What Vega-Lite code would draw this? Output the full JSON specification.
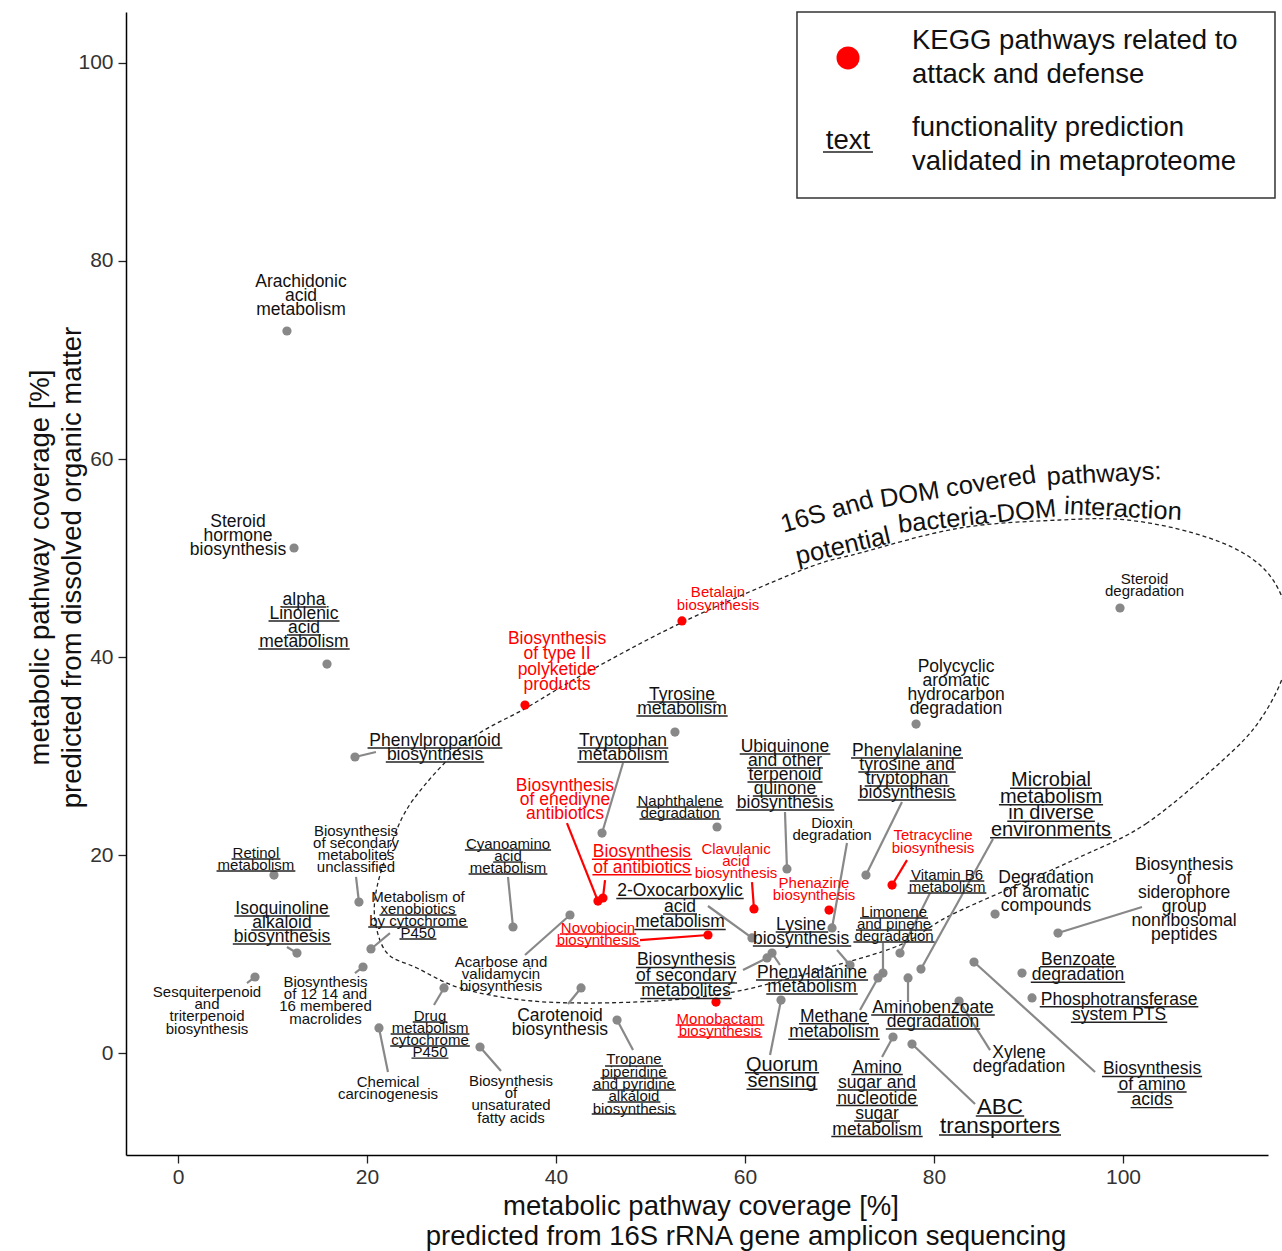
{
  "$schema": "https://vega.github.io/schema/vega-lite/v6.json",
  "width": 1142,
  "height": 1143,
  "autosize": {"type": "none"},
  "padding": {"left": 126, "top": 12, "right": 14, "bottom": 96},
  "background": "white",
  "config": {
    "view": {"stroke": null},
    "font": "Liberation Sans",
    "axis": {
      "grid": false,
      "domainColor": "#000000",
      "domainWidth": 1.5,
      "tickColor": "#222222",
      "tickWidth": 1.3,
      "tickSize": 8,
      "labelFont": "Liberation Sans",
      "labelFontSize": 21,
      "labelColor": "#333333",
      "titleFont": "Liberation Sans",
      "titleFontSize": 27.5,
      "titleFontWeight": "normal",
      "titleColor": "#111111"
    }
  },
  "datasets": {
    "pts": [
      {"name": "Arachidonic\nacid\nmetabolism", "x": 11.53, "y": 72.93, "grp": "other", "lx": 13.02, "ly": 77.87, "tier": 2},
      {"name": "Steroid\nhormone\nbiosynthesis", "x": 12.28, "y": 51.01, "grp": "other", "lx": 6.35, "ly": 53.63, "tier": 2},
      {"name": "alpha\nLinolenic\nacid\nmetabolism", "x": 15.77, "y": 39.29, "grp": "other", "lx": 13.33, "ly": 45.76, "tier": 2},
      {"name": "Phenylpropanoid\nbiosynthesis", "x": 18.73, "y": 29.90, "grp": "other", "lx": 27.20, "ly": 31.52, "tier": 2, "sx": 20.95, "sy": 30.40},
      {"name": "Retinol\nmetabolism", "x": 10.16, "y": 17.98, "grp": "other", "lx": 8.25, "ly": 20.22, "tier": 1},
      {"name": "Biosynthesis\nof secondary\nmetabolites\nunclassified", "x": 19.15, "y": 15.25, "grp": "other", "lx": 18.84, "ly": 22.47, "tier": 1, "sx": 18.84, "sy": 17.78},
      {"name": "Isoquinoline\nalkaloid\nbiosynthesis", "x": 12.59, "y": 10.10, "grp": "other", "lx": 11.01, "ly": 14.54, "tier": 2, "sx": 11.53, "sy": 10.71},
      {"name": "Metabolism of\nxenobiotics\nby cytochrome\nP450", "x": 20.42, "y": 10.51, "grp": "other", "lx": 25.40, "ly": 15.80, "tier": 1, "sx": 22.43, "sy": 12.12},
      {"name": "Cyanoamino\nacid\nmetabolism", "x": 35.45, "y": 12.73, "grp": "other", "lx": 34.92, "ly": 21.14, "tier": 1, "sx": 34.92, "sy": 17.78},
      {"name": "Biosynthesis\nof 12 14 and\n16 membered\nmacrolides", "x": 19.58, "y": 8.69, "grp": "other", "lx": 15.61, "ly": 7.21, "tier": 1, "sx": 18.73, "sy": 8.08},
      {"name": "Sesquiterpenoid\nand\ntriterpenoid\nbiosynthesis", "x": 8.15, "y": 7.68, "grp": "other", "lx": 3.07, "ly": 6.20, "tier": 1, "sx": 7.30, "sy": 7.07},
      {"name": "Chemical\ncarcinogenesis", "x": 21.27, "y": 2.53, "grp": "other", "lx": 22.22, "ly": -2.92, "tier": 1, "sx": 22.22, "sy": -1.92},
      {"name": "Drug\nmetabolism\ncytochrome\nP450", "x": 28.15, "y": 6.57, "grp": "other", "lx": 26.67, "ly": 3.78, "tier": 1, "sx": 27.09, "sy": 4.85},
      {"name": "Biosynthesis\nof\nunsaturated\nfatty acids", "x": 31.96, "y": 0.61, "grp": "other", "lx": 35.24, "ly": -2.79, "tier": 1, "sx": 34.18, "sy": -1.82},
      {"name": "Acarbose and\nvalidamycin\nbiosynthesis", "x": 41.48, "y": 13.94, "grp": "other", "lx": 34.18, "ly": 9.22, "tier": 1, "sx": 36.72, "sy": 9.90},
      {"name": "Carotenoid\nbiosynthesis", "x": 42.65, "y": 6.57, "grp": "other", "lx": 40.42, "ly": 3.69, "tier": 2, "sx": 41.27, "sy": 4.95},
      {"name": "Tropane\npiperidine\nand pyridine\nalkaloid\nbiosynthesis", "x": 46.46, "y": 3.33, "grp": "other", "lx": 48.25, "ly": -0.65, "tier": 1, "sx": 48.15, "sy": 0.30},
      {"name": "Biosynthesis\nof enediyne\nantibiotics", "x": 44.44, "y": 15.35, "grp": "attack", "lx": 40.95, "ly": 26.97, "tier": 2, "sx": 41.16, "sy": 23.23},
      {"name": "Biosynthesis\nof antibiotics", "x": 44.97, "y": 15.66, "grp": "attack", "lx": 49.10, "ly": 20.27, "tier": 3, "sx": 45.19, "sy": 17.47},
      {"name": "Tryptophan\nmetabolism", "x": 44.87, "y": 22.22, "grp": "other", "lx": 47.09, "ly": 31.52, "tier": 2, "sx": 47.09, "sy": 29.29},
      {"name": "Tyrosine\nmetabolism", "x": 52.59, "y": 32.42, "grp": "other", "lx": 53.33, "ly": 36.16, "tier": 2},
      {"name": "Biosynthesis\nof type II\npolyketide\nproducts", "x": 36.72, "y": 35.15, "grp": "attack", "lx": 40.11, "ly": 41.84, "tier": 3},
      {"name": "Betalain\nbiosynthesis", "x": 53.33, "y": 43.64, "grp": "attack", "lx": 57.14, "ly": 46.53, "tier": 1},
      {"name": "Naphthalene\ndegradation", "x": 57.04, "y": 22.83, "grp": "other", "lx": 53.12, "ly": 25.47, "tier": 1},
      {"name": "2-Oxocarboxylic\nacid\nmetabolism", "x": 60.74, "y": 11.62, "grp": "other", "lx": 53.12, "ly": 16.32, "tier": 3, "sx": 56.08, "sy": 14.85},
      {"name": "Novobiocin\nbiosynthesis", "x": 56.08, "y": 11.92, "grp": "attack", "lx": 44.44, "ly": 12.64, "tier": 1, "sx": 48.89, "sy": 11.41},
      {"name": "Clavulanic\nacid\nbiosynthesis", "x": 60.95, "y": 14.55, "grp": "attack", "lx": 59.05, "ly": 20.63, "tier": 1, "sx": 60.74, "sy": 17.27},
      {"name": "Ubiquinone\nand other\nterpenoid\nquinone\nbiosynthesis", "x": 64.44, "y": 18.59, "grp": "other", "lx": 64.23, "ly": 30.91, "tier": 2, "sx": 64.23, "sy": 24.34},
      {"name": "Dioxin\ndegradation", "x": 69.21, "y": 12.63, "grp": "other", "lx": 69.21, "ly": 23.25, "tier": 1, "sx": 70.79, "sy": 21.21},
      {"name": "Phenazine\nbiosynthesis", "x": 68.89, "y": 14.44, "grp": "attack", "lx": 67.30, "ly": 17.19, "tier": 1},
      {"name": "Phenylalanine\ntyrosine and\ntryptophan\nbiosynthesis", "x": 72.80, "y": 17.98, "grp": "other", "lx": 77.14, "ly": 30.50, "tier": 2, "sx": 76.61, "sy": 25.35},
      {"name": "Tetracycline\nbiosynthesis", "x": 75.56, "y": 16.97, "grp": "attack", "lx": 79.89, "ly": 21.98, "tier": 1, "sx": 77.14, "sy": 19.49},
      {"name": "Vitamin B6\nmetabolism", "x": 76.40, "y": 10.10, "grp": "other", "lx": 81.38, "ly": 17.99, "tier": 1, "sx": 79.58, "sy": 16.16},
      {"name": "Lysine\nbiosynthesis", "x": 71.11, "y": 8.89, "grp": "other", "lx": 65.93, "ly": 12.93, "tier": 2, "sx": 69.74, "sy": 10.40},
      {"name": "Phenylalanine\nmetabolism", "x": 62.86, "y": 10.10, "grp": "other", "lx": 67.09, "ly": 8.08, "tier": 2, "sx": 63.70, "sy": 8.89},
      {"name": "Biosynthesis\nof secondary\nmetabolites", "x": 62.33, "y": 9.60, "grp": "other", "lx": 53.76, "ly": 9.35, "tier": 3, "sx": 59.79, "sy": 8.38},
      {"name": "Monobactam\nbiosynthesis", "x": 56.93, "y": 5.15, "grp": "attack", "lx": 57.35, "ly": 3.45, "tier": 1},
      {"name": "Quorum\nsensing", "x": 63.81, "y": 5.35, "grp": "other", "lx": 63.92, "ly": -1.19, "tier": 4, "sx": 62.65, "sy": -0.20},
      {"name": "Limonene\nand pinene\ndegradation", "x": 74.60, "y": 8.08, "grp": "other", "lx": 75.77, "ly": 14.27, "tier": 1, "sx": 74.60, "sy": 11.11},
      {"name": "Methane\nmetabolism", "x": 74.07, "y": 7.58, "grp": "other", "lx": 69.42, "ly": 3.66, "tier": 3, "sx": 72.17, "sy": 4.34},
      {"name": "Aminobenzoate\ndegradation", "x": 77.25, "y": 7.58, "grp": "other", "lx": 79.89, "ly": 4.55, "tier": 2, "sx": 77.25, "sy": 5.15},
      {"name": "Microbial\nmetabolism\nin diverse\nenvironments", "x": 78.62, "y": 8.48, "grp": "other", "lx": 92.38, "ly": 27.55, "tier": 4, "sx": 86.24, "sy": 21.62},
      {"name": "Degradation\nof aromatic\ncompounds", "x": 86.46, "y": 14.04, "grp": "other", "lx": 91.85, "ly": 17.67, "tier": 2},
      {"name": "Biosynthesis\nof\nsiderophore\ngroup\nnonribosomal\npeptides", "x": 93.12, "y": 12.12, "grp": "other", "lx": 106.46, "ly": 18.99, "tier": 2, "sx": 102.01, "sy": 14.75},
      {"name": "Benzoate\ndegradation", "x": 89.31, "y": 8.08, "grp": "other", "lx": 95.24, "ly": 9.42, "tier": 3},
      {"name": "Phosphotransferase\nsystem PTS", "x": 90.37, "y": 5.56, "grp": "other", "lx": 99.58, "ly": 5.38, "tier": 3},
      {"name": "Biosynthesis\nof amino\nacids", "x": 84.23, "y": 9.19, "grp": "other", "lx": 103.07, "ly": -1.66, "tier": 3, "sx": 97.04, "sy": -1.92},
      {"name": "Xylene\ndegradation", "x": 82.65, "y": 5.25, "grp": "other", "lx": 88.99, "ly": 0.00, "tier": 2, "sx": 85.93, "sy": 0.30},
      {"name": "Amino\nsugar and\nnucleotide\nsugar\nmetabolism", "x": 75.66, "y": 1.62, "grp": "other", "lx": 73.97, "ly": -1.47, "tier": 3, "sx": 74.50, "sy": -0.40},
      {"name": "ABC\ntransporters", "x": 77.67, "y": 0.91, "grp": "other", "lx": 86.98, "ly": -5.45, "tier": 5, "sx": 84.34, "sy": -5.15},
      {"name": "Polycyclic\naromatic\nhydrocarbon\ndegradation", "x": 78.10, "y": 33.23, "grp": "other", "lx": 82.33, "ly": 39.04, "tier": 2},
      {"name": "Steroid\ndegradation", "x": 99.68, "y": 44.95, "grp": "other", "lx": 102.28, "ly": 47.89, "tier": 1}
    ],
    "ul": [
      {"x": 10.96, "x2": 15.70, "y": 45.05, "grp": "other"},
      {"x": 9.58, "x2": 17.09, "y": 43.64, "grp": "other"},
      {"x": 11.53, "x2": 15.13, "y": 42.22, "grp": "other"},
      {"x": 8.50, "x2": 18.17, "y": 40.81, "grp": "other"},
      {"x": 20.06, "x2": 34.33, "y": 30.81, "grp": "other"},
      {"x": 21.99, "x2": 32.40, "y": 29.39, "grp": "other"},
      {"x": 5.67, "x2": 10.84, "y": 19.60, "grp": "other"},
      {"x": 4.08, "x2": 12.42, "y": 18.38, "grp": "other"},
      {"x": 5.96, "x2": 16.05, "y": 13.84, "grp": "other"},
      {"x": 7.76, "x2": 14.25, "y": 12.42, "grp": "other"},
      {"x": 5.80, "x2": 16.21, "y": 11.01, "grp": "other"},
      {"x": 21.32, "x2": 29.47, "y": 13.94, "grp": "other"},
      {"x": 20.13, "x2": 30.67, "y": 12.73, "grp": "other"},
      {"x": 23.44, "x2": 27.35, "y": 11.52, "grp": "other"},
      {"x": 30.36, "x2": 39.48, "y": 20.51, "grp": "other"},
      {"x": 33.35, "x2": 36.49, "y": 19.29, "grp": "other"},
      {"x": 30.75, "x2": 39.09, "y": 18.08, "grp": "other"},
      {"x": 24.84, "x2": 28.50, "y": 3.13, "grp": "other"},
      {"x": 22.50, "x2": 30.84, "y": 1.92, "grp": "other"},
      {"x": 22.46, "x2": 30.88, "y": 0.71, "grp": "other"},
      {"x": 24.71, "x2": 28.62, "y": -0.51, "grp": "other"},
      {"x": 45.19, "x2": 51.32, "y": -1.31, "grp": "other"},
      {"x": 44.71, "x2": 51.80, "y": -2.53, "grp": "other"},
      {"x": 43.82, "x2": 52.69, "y": -3.74, "grp": "other"},
      {"x": 45.46, "x2": 51.05, "y": -4.95, "grp": "other"},
      {"x": 43.78, "x2": 52.73, "y": -6.16, "grp": "other"},
      {"x": 43.80, "x2": 54.40, "y": 19.57, "grp": "attack"},
      {"x": 43.85, "x2": 54.35, "y": 18.01, "grp": "attack"},
      {"x": 42.30, "x2": 51.88, "y": 30.81, "grp": "other"},
      {"x": 42.25, "x2": 51.93, "y": 29.39, "grp": "other"},
      {"x": 49.67, "x2": 56.99, "y": 35.45, "grp": "other"},
      {"x": 48.50, "x2": 58.17, "y": 34.04, "grp": "other"},
      {"x": 48.52, "x2": 57.72, "y": 24.85, "grp": "other"},
      {"x": 48.83, "x2": 57.42, "y": 23.64, "grp": "other"},
      {"x": 46.38, "x2": 59.86, "y": 15.61, "grp": "other"},
      {"x": 51.32, "x2": 54.92, "y": 14.04, "grp": "other"},
      {"x": 48.29, "x2": 57.96, "y": 12.47, "grp": "other"},
      {"x": 40.41, "x2": 48.48, "y": 12.02, "grp": "attack"},
      {"x": 39.97, "x2": 48.92, "y": 10.81, "grp": "attack"},
      {"x": 59.44, "x2": 69.03, "y": 30.20, "grp": "other"},
      {"x": 60.21, "x2": 68.25, "y": 28.79, "grp": "other"},
      {"x": 60.26, "x2": 68.20, "y": 27.37, "grp": "other"},
      {"x": 60.83, "x2": 67.64, "y": 25.96, "grp": "other"},
      {"x": 59.03, "x2": 69.44, "y": 24.55, "grp": "other"},
      {"x": 71.22, "x2": 83.07, "y": 29.80, "grp": "other"},
      {"x": 71.99, "x2": 82.30, "y": 28.38, "grp": "other"},
      {"x": 72.66, "x2": 81.63, "y": 26.97, "grp": "other"},
      {"x": 71.94, "x2": 82.35, "y": 25.56, "grp": "other"},
      {"x": 77.43, "x2": 85.32, "y": 17.37, "grp": "other"},
      {"x": 77.21, "x2": 85.54, "y": 16.16, "grp": "other"},
      {"x": 63.25, "x2": 68.81, "y": 12.22, "grp": "other"},
      {"x": 60.83, "x2": 71.24, "y": 10.81, "grp": "other"},
      {"x": 61.16, "x2": 73.02, "y": 7.37, "grp": "other"},
      {"x": 62.25, "x2": 71.93, "y": 5.96, "grp": "other"},
      {"x": 48.46, "x2": 59.06, "y": 8.64, "grp": "other"},
      {"x": 48.35, "x2": 59.16, "y": 7.07, "grp": "other"},
      {"x": 48.92, "x2": 58.59, "y": 5.51, "grp": "other"},
      {"x": 52.66, "x2": 62.05, "y": 2.83, "grp": "attack"},
      {"x": 52.88, "x2": 61.83, "y": 1.62, "grp": "attack"},
      {"x": 59.99, "x2": 67.84, "y": -1.99, "grp": "other"},
      {"x": 60.16, "x2": 67.67, "y": -3.66, "grp": "other"},
      {"x": 72.17, "x2": 79.37, "y": 13.64, "grp": "other"},
      {"x": 71.74, "x2": 79.80, "y": 12.42, "grp": "other"},
      {"x": 71.47, "x2": 80.06, "y": 11.21, "grp": "other"},
      {"x": 65.71, "x2": 73.12, "y": 2.95, "grp": "other"},
      {"x": 64.58, "x2": 74.25, "y": 1.39, "grp": "other"},
      {"x": 73.35, "x2": 86.43, "y": 3.84, "grp": "other"},
      {"x": 74.90, "x2": 84.89, "y": 2.42, "grp": "other"},
      {"x": 88.04, "x2": 96.72, "y": 26.74, "grp": "other"},
      {"x": 86.87, "x2": 97.89, "y": 25.08, "grp": "other"},
      {"x": 87.75, "x2": 97.02, "y": 23.41, "grp": "other"},
      {"x": 85.93, "x2": 98.84, "y": 21.74, "grp": "other"},
      {"x": 91.22, "x2": 99.26, "y": 8.71, "grp": "other"},
      {"x": 90.24, "x2": 100.23, "y": 7.15, "grp": "other"},
      {"x": 91.19, "x2": 107.97, "y": 4.67, "grp": "other"},
      {"x": 94.48, "x2": 104.68, "y": 3.11, "grp": "other"},
      {"x": 97.77, "x2": 108.37, "y": -2.37, "grp": "other"},
      {"x": 99.41, "x2": 106.73, "y": -3.94, "grp": "other"},
      {"x": 100.80, "x2": 105.33, "y": -5.51, "grp": "other"},
      {"x": 71.24, "x2": 76.70, "y": -2.17, "grp": "other"},
      {"x": 69.75, "x2": 78.19, "y": -3.74, "grp": "other"},
      {"x": 69.64, "x2": 78.29, "y": -5.30, "grp": "other"},
      {"x": 71.55, "x2": 76.39, "y": -6.87, "grp": "other"},
      {"x": 69.13, "x2": 78.80, "y": -8.43, "grp": "other"},
      {"x": 84.42, "x2": 89.54, "y": -6.36, "grp": "other"},
      {"x": 80.53, "x2": 93.44, "y": -8.28, "grp": "other"}
    ],
    "ell": [
      {"i": 1, "x": 110.58, "y": 29.60},
      {"i": 2, "x": 102.54, "y": 23.23},
      {"i": 3, "x": 95.45, "y": 19.80},
      {"i": 4, "x": 88.36, "y": 16.77},
      {"i": 5, "x": 81.38, "y": 13.74},
      {"i": 6, "x": 76.40, "y": 10.91},
      {"i": 7, "x": 69.00, "y": 8.69},
      {"i": 8, "x": 64.02, "y": 7.37},
      {"i": 9, "x": 58.73, "y": 6.16},
      {"i": 10, "x": 52.06, "y": 5.35},
      {"i": 11, "x": 43.60, "y": 5.05},
      {"i": 12, "x": 36.51, "y": 5.35},
      {"i": 13, "x": 29.84, "y": 6.57},
      {"i": 14, "x": 25.29, "y": 8.59},
      {"i": 15, "x": 22.12, "y": 10.10},
      {"i": 16, "x": 20.85, "y": 13.43},
      {"i": 17, "x": 21.06, "y": 16.77},
      {"i": 18, "x": 22.43, "y": 20.81},
      {"i": 19, "x": 24.87, "y": 25.56},
      {"i": 20, "x": 30.58, "y": 31.41},
      {"i": 21, "x": 36.83, "y": 34.85},
      {"i": 22, "x": 42.96, "y": 38.28},
      {"i": 23, "x": 53.44, "y": 43.54},
      {"i": 24, "x": 66.03, "y": 48.79},
      {"i": 25, "x": 72.17, "y": 50.51},
      {"i": 26, "x": 82.75, "y": 53.03},
      {"i": 27, "x": 93.33, "y": 53.84},
      {"i": 28, "x": 100.42, "y": 53.84},
      {"i": 29, "x": 107.41, "y": 52.53},
      {"i": 30, "x": 112.70, "y": 50.51},
      {"i": 31, "x": 115.87, "y": 47.78},
      {"i": 32, "x": 117.46, "y": 43.74},
      {"i": 33, "x": 117.14, "y": 38.69},
      {"i": 34, "x": 114.50, "y": 33.64}
    ],
    "arc": [
      {"t": "16S and", "x": 68.68, "y": 54.65, "a": 344},
      {"t": "DOM covered", "x": 82.54, "y": 57.17, "a": 351},
      {"t": "pathways:", "x": 97.99, "y": 58.48, "a": 357},
      {"t": "potential", "x": 70.37, "y": 51.21, "a": 347},
      {"t": "bacteria-DOM", "x": 84.55, "y": 54.19, "a": 354},
      {"t": "interaction", "x": 100.00, "y": 54.95, "a": 3}
    ]
  },
  "layer": [
    {
      "data": {"name": "ell"},
      "mark": {"type": "line", "interpolate": "cardinal-closed", "strokeDash": [4, 3], "strokeWidth": 1.3, "color": "#222222"},
      "encoding": {
        "x": {"field": "x", "type": "quantitative", "scale": {"domain": [-5.5, 115.34], "nice": false, "zero": false},
              "axis": {"values": [0, 20, 40, 60, 80, 100], "title": null, "labelPadding": 3}},
        "y": {"field": "y", "type": "quantitative", "scale": {"domain": [-10.3, 105.15], "nice": false, "zero": false},
              "axis": {"values": [0, 20, 40, 60, 80, 100], "labelPadding": 5, "title": ["metabolic pathway coverage [%]", "predicted from dissolved organic matter"], "titleAngle": 270, "titleAlign": "center", "titleBaseline": "middle", "titleX": -86, "titleY": 555, "titleLineHeight": 32}},
        "order": {"field": "i", "type": "quantitative"}
      }
    },
    {
      "data": {"values": [{"x": 65.5, "x2": 116.08, "y": 86.36, "y2": 105.15}]},
      "mark": {"type": "rect", "fill": "white", "stroke": "#333333", "strokeWidth": 1.5},
      "encoding": {
        "x": {"field": "x", "type": "quantitative", "scale": {"domain": [-5.5, 115.34], "nice": false, "zero": false},
              "axis": {"values": [0, 20, 40, 60, 80, 100], "title": null, "labelPadding": 3}},
        "x2": {"field": "x2"},
        "y": {"field": "y", "type": "quantitative", "scale": {"domain": [-10.3, 105.15], "nice": false, "zero": false},
              "axis": {"values": [0, 20, 40, 60, 80, 100], "labelPadding": 5, "title": ["metabolic pathway coverage [%]", "predicted from dissolved organic matter"], "titleAngle": 270, "titleAlign": "center", "titleBaseline": "middle", "titleX": -86, "titleY": 555, "titleLineHeight": 32}},
        "y2": {"field": "y2"}
      }
    },
    {
      "data": {"name": "pts"},
      "transform": [{"filter": "isValid(datum.sx)"}],
      "mark": {"type": "rule", "strokeWidth": 2.2},
      "encoding": {
        "x": {"field": "x", "type": "quantitative", "scale": {"domain": [-5.5, 115.34], "nice": false, "zero": false},
              "axis": {"values": [0, 20, 40, 60, 80, 100], "title": null, "labelPadding": 3}},
        "y": {"field": "y", "type": "quantitative", "scale": {"domain": [-10.3, 105.15], "nice": false, "zero": false},
              "axis": {"values": [0, 20, 40, 60, 80, 100], "labelPadding": 5, "title": ["metabolic pathway coverage [%]", "predicted from dissolved organic matter"], "titleAngle": 270, "titleAlign": "center", "titleBaseline": "middle", "titleX": -86, "titleY": 555, "titleLineHeight": 32}},
        "x2": {"field": "sx"},
        "y2": {"field": "sy"},
        "color": {"condition": {"test": "datum.grp === 'attack'", "value": "#ff0000"}, "value": "#888888"}
      }
    },
    {
      "data": {"name": "pts"},
      "mark": {"type": "circle", "size": 85, "opacity": 1},
      "encoding": {
        "x": {"field": "x", "type": "quantitative", "scale": {"domain": [-5.5, 115.34], "nice": false, "zero": false},
              "axis": {"values": [0, 20, 40, 60, 80, 100], "title": null, "labelPadding": 3}},
        "y": {"field": "y", "type": "quantitative", "scale": {"domain": [-10.3, 105.15], "nice": false, "zero": false},
              "axis": {"values": [0, 20, 40, 60, 80, 100], "labelPadding": 5, "title": ["metabolic pathway coverage [%]", "predicted from dissolved organic matter"], "titleAngle": 270, "titleAlign": "center", "titleBaseline": "middle", "titleX": -86, "titleY": 555, "titleLineHeight": 32}},
        "color": {"condition": {"test": "datum.grp === 'attack'", "value": "#ff0000"}, "value": "#888888"}
      }
    },
    {
      "data": {"name": "pts"},
      "transform": [{"filter": "datum.tier === 1"}],
      "mark": {"type": "text", "fontSize": 15, "lineHeight": 12.3, "lineBreak": "\n", "align": "center", "baseline": "middle", "font": "Liberation Sans"},
      "encoding": {
        "x": {"field": "lx", "type": "quantitative", "scale": {"domain": [-5.5, 115.34], "nice": false, "zero": false},
              "axis": {"values": [0, 20, 40, 60, 80, 100], "title": null, "labelPadding": 3}},
        "y": {"field": "ly", "type": "quantitative", "scale": {"domain": [-10.3, 105.15], "nice": false, "zero": false},
              "axis": {"values": [0, 20, 40, 60, 80, 100], "labelPadding": 5, "title": ["metabolic pathway coverage [%]", "predicted from dissolved organic matter"], "titleAngle": 270, "titleAlign": "center", "titleBaseline": "middle", "titleX": -86, "titleY": 555, "titleLineHeight": 32}},
        "text": {"field": "name"},
        "color": {"condition": {"test": "datum.grp === 'attack'", "value": "#ff0000"}, "value": "#111111"}
      }
    },
    {
      "data": {"name": "pts"},
      "transform": [{"filter": "datum.tier === 2"}],
      "mark": {"type": "text", "fontSize": 17.5, "lineHeight": 14, "lineBreak": "\n", "align": "center", "baseline": "middle", "font": "Liberation Sans"},
      "encoding": {
        "x": {"field": "lx", "type": "quantitative", "scale": {"domain": [-5.5, 115.34], "nice": false, "zero": false},
              "axis": {"values": [0, 20, 40, 60, 80, 100], "title": null, "labelPadding": 3}},
        "y": {"field": "ly", "type": "quantitative", "scale": {"domain": [-10.3, 105.15], "nice": false, "zero": false},
              "axis": {"values": [0, 20, 40, 60, 80, 100], "labelPadding": 5, "title": ["metabolic pathway coverage [%]", "predicted from dissolved organic matter"], "titleAngle": 270, "titleAlign": "center", "titleBaseline": "middle", "titleX": -86, "titleY": 555, "titleLineHeight": 32}},
        "text": {"field": "name"},
        "color": {"condition": {"test": "datum.grp === 'attack'", "value": "#ff0000"}, "value": "#111111"}
      }
    },
    {
      "data": {"name": "pts"},
      "transform": [{"filter": "datum.tier === 3"}],
      "mark": {"type": "text", "fontSize": 17.5, "lineHeight": 15.5, "lineBreak": "\n", "align": "center", "baseline": "middle", "font": "Liberation Sans"},
      "encoding": {
        "x": {"field": "lx", "type": "quantitative", "scale": {"domain": [-5.5, 115.34], "nice": false, "zero": false},
              "axis": {"values": [0, 20, 40, 60, 80, 100], "title": null, "labelPadding": 3}},
        "y": {"field": "ly", "type": "quantitative", "scale": {"domain": [-10.3, 105.15], "nice": false, "zero": false},
              "axis": {"values": [0, 20, 40, 60, 80, 100], "labelPadding": 5, "title": ["metabolic pathway coverage [%]", "predicted from dissolved organic matter"], "titleAngle": 270, "titleAlign": "center", "titleBaseline": "middle", "titleX": -86, "titleY": 555, "titleLineHeight": 32}},
        "text": {"field": "name"},
        "color": {"condition": {"test": "datum.grp === 'attack'", "value": "#ff0000"}, "value": "#111111"}
      }
    },
    {
      "data": {"name": "pts"},
      "transform": [{"filter": "datum.tier === 4"}],
      "mark": {"type": "text", "fontSize": 20, "lineHeight": 16.5, "lineBreak": "\n", "align": "center", "baseline": "middle", "font": "Liberation Sans", "color": "#111111"},
      "encoding": {
        "x": {"field": "lx", "type": "quantitative", "scale": {"domain": [-5.5, 115.34], "nice": false, "zero": false},
              "axis": {"values": [0, 20, 40, 60, 80, 100], "title": null, "labelPadding": 3}},
        "y": {"field": "ly", "type": "quantitative", "scale": {"domain": [-10.3, 105.15], "nice": false, "zero": false},
              "axis": {"values": [0, 20, 40, 60, 80, 100], "labelPadding": 5, "title": ["metabolic pathway coverage [%]", "predicted from dissolved organic matter"], "titleAngle": 270, "titleAlign": "center", "titleBaseline": "middle", "titleX": -86, "titleY": 555, "titleLineHeight": 32}},
        "text": {"field": "name"}
      }
    },
    {
      "data": {"name": "pts"},
      "transform": [{"filter": "datum.tier === 5"}],
      "mark": {"type": "text", "fontSize": 22.5, "lineHeight": 19, "lineBreak": "\n", "align": "center", "baseline": "middle", "font": "Liberation Sans", "color": "#111111"},
      "encoding": {
        "x": {"field": "lx", "type": "quantitative", "scale": {"domain": [-5.5, 115.34], "nice": false, "zero": false},
              "axis": {"values": [0, 20, 40, 60, 80, 100], "title": null, "labelPadding": 3}},
        "y": {"field": "ly", "type": "quantitative", "scale": {"domain": [-10.3, 105.15], "nice": false, "zero": false},
              "axis": {"values": [0, 20, 40, 60, 80, 100], "labelPadding": 5, "title": ["metabolic pathway coverage [%]", "predicted from dissolved organic matter"], "titleAngle": 270, "titleAlign": "center", "titleBaseline": "middle", "titleX": -86, "titleY": 555, "titleLineHeight": 32}},
        "text": {"field": "name"}
      }
    },
    {
      "data": {"name": "ul"},
      "mark": {"type": "rule", "strokeWidth": 1.4},
      "encoding": {
        "x": {"field": "x", "type": "quantitative", "scale": {"domain": [-5.5, 115.34], "nice": false, "zero": false},
              "axis": {"values": [0, 20, 40, 60, 80, 100], "title": null, "labelPadding": 3}},
        "x2": {"field": "x2"},
        "y": {"field": "y", "type": "quantitative", "scale": {"domain": [-10.3, 105.15], "nice": false, "zero": false},
              "axis": {"values": [0, 20, 40, 60, 80, 100], "labelPadding": 5, "title": ["metabolic pathway coverage [%]", "predicted from dissolved organic matter"], "titleAngle": 270, "titleAlign": "center", "titleBaseline": "middle", "titleX": -86, "titleY": 555, "titleLineHeight": 32}},
        "color": {"condition": {"test": "datum.grp === 'attack'", "value": "#ff0000"}, "value": "#222222"}
      }
    },
    {
      "data": {"values": [{"x": 70.90, "y": 100.51}]},
      "mark": {"type": "circle", "size": 530, "opacity": 1, "color": "#ff0000"},
      "encoding": {
        "x": {"field": "x", "type": "quantitative", "scale": {"domain": [-5.5, 115.34], "nice": false, "zero": false},
              "axis": {"values": [0, 20, 40, 60, 80, 100], "title": null, "labelPadding": 3}},
        "y": {"field": "y", "type": "quantitative", "scale": {"domain": [-10.3, 105.15], "nice": false, "zero": false},
              "axis": {"values": [0, 20, 40, 60, 80, 100], "labelPadding": 5, "title": ["metabolic pathway coverage [%]", "predicted from dissolved organic matter"], "titleAngle": 270, "titleAlign": "center", "titleBaseline": "middle", "titleX": -86, "titleY": 555, "titleLineHeight": 32}}
      }
    },
    {
      "data": {"values": [
        {"t": "KEGG pathways related to\nattack and defense", "x": 77.67, "y": 102.22},
        {"t": "functionality prediction\nvalidated in metaproteome", "x": 77.67, "y": 93.43}
      ]},
      "mark": {"type": "text", "fontSize": 27.5, "lineHeight": 34, "lineBreak": "\n", "align": "left", "baseline": "middle", "font": "Liberation Sans", "color": "#111111"},
      "encoding": {
        "x": {"field": "x", "type": "quantitative", "scale": {"domain": [-5.5, 115.34], "nice": false, "zero": false},
              "axis": {"values": [0, 20, 40, 60, 80, 100], "title": null, "labelPadding": 3}},
        "y": {"field": "y", "type": "quantitative", "scale": {"domain": [-10.3, 105.15], "nice": false, "zero": false},
              "axis": {"values": [0, 20, 40, 60, 80, 100], "labelPadding": 5, "title": ["metabolic pathway coverage [%]", "predicted from dissolved organic matter"], "titleAngle": 270, "titleAlign": "center", "titleBaseline": "middle", "titleX": -86, "titleY": 555, "titleLineHeight": 32}},
        "text": {"field": "t"}
      }
    },
    {
      "data": {"values": [{"t": "text", "x": 70.90, "y": 92.12}]},
      "mark": {"type": "text", "fontSize": 27.5, "align": "center", "baseline": "middle", "font": "Liberation Sans", "color": "#111111"},
      "encoding": {
        "x": {"field": "x", "type": "quantitative", "scale": {"domain": [-5.5, 115.34], "nice": false, "zero": false},
              "axis": {"values": [0, 20, 40, 60, 80, 100], "title": null, "labelPadding": 3}},
        "y": {"field": "y", "type": "quantitative", "scale": {"domain": [-10.3, 105.15], "nice": false, "zero": false},
              "axis": {"values": [0, 20, 40, 60, 80, 100], "labelPadding": 5, "title": ["metabolic pathway coverage [%]", "predicted from dissolved organic matter"], "titleAngle": 270, "titleAlign": "center", "titleBaseline": "middle", "titleX": -86, "titleY": 555, "titleLineHeight": 32}},
        "text": {"field": "t"}
      }
    },
    {
      "data": {"values": [{"x": 68.25, "x2": 73.54, "y": 91.01}]},
      "mark": {"type": "rule", "strokeWidth": 1.6, "color": "#222222"},
      "encoding": {
        "x": {"field": "x", "type": "quantitative", "scale": {"domain": [-5.5, 115.34], "nice": false, "zero": false},
              "axis": {"values": [0, 20, 40, 60, 80, 100], "title": null, "labelPadding": 3}},
        "x2": {"field": "x2"},
        "y": {"field": "y", "type": "quantitative", "scale": {"domain": [-10.3, 105.15], "nice": false, "zero": false},
              "axis": {"values": [0, 20, 40, 60, 80, 100], "labelPadding": 5, "title": ["metabolic pathway coverage [%]", "predicted from dissolved organic matter"], "titleAngle": 270, "titleAlign": "center", "titleBaseline": "middle", "titleX": -86, "titleY": 555, "titleLineHeight": 32}}
      }
    },
    {
      "data": {"name": "arc"},
      "mark": {"type": "text", "fontSize": 25.5, "align": "center", "baseline": "middle", "font": "Liberation Sans", "color": "#111111"},
      "encoding": {
        "x": {"field": "x", "type": "quantitative", "scale": {"domain": [-5.5, 115.34], "nice": false, "zero": false},
              "axis": {"values": [0, 20, 40, 60, 80, 100], "title": null, "labelPadding": 3}},
        "y": {"field": "y", "type": "quantitative", "scale": {"domain": [-10.3, 105.15], "nice": false, "zero": false},
              "axis": {"values": [0, 20, 40, 60, 80, 100], "labelPadding": 5, "title": ["metabolic pathway coverage [%]", "predicted from dissolved organic matter"], "titleAngle": 270, "titleAlign": "center", "titleBaseline": "middle", "titleX": -86, "titleY": 555, "titleLineHeight": 32}},
        "text": {"field": "t"},
        "angle": {"field": "a", "type": "quantitative", "scale": null}
      }
    },
    {
      "data": {"values": [
        {"t": "metabolic pathway coverage [%]", "x": 55.34, "y": -15.56},
        {"t": "predicted from 16S rRNA gene amplicon sequencing", "x": 60.11, "y": -18.59}
      ]},
      "mark": {"type": "text", "fontSize": 27.5, "align": "center", "baseline": "middle", "font": "Liberation Sans", "color": "#111111"},
      "encoding": {
        "x": {"field": "x", "type": "quantitative", "scale": {"domain": [-5.5, 115.34], "nice": false, "zero": false},
              "axis": {"values": [0, 20, 40, 60, 80, 100], "title": null, "labelPadding": 3}},
        "y": {"field": "y", "type": "quantitative", "scale": {"domain": [-10.3, 105.15], "nice": false, "zero": false},
              "axis": {"values": [0, 20, 40, 60, 80, 100], "labelPadding": 5, "title": ["metabolic pathway coverage [%]", "predicted from dissolved organic matter"], "titleAngle": 270, "titleAlign": "center", "titleBaseline": "middle", "titleX": -86, "titleY": 555, "titleLineHeight": 32}},
        "text": {"field": "t"}
      }
    }
  ]
}
